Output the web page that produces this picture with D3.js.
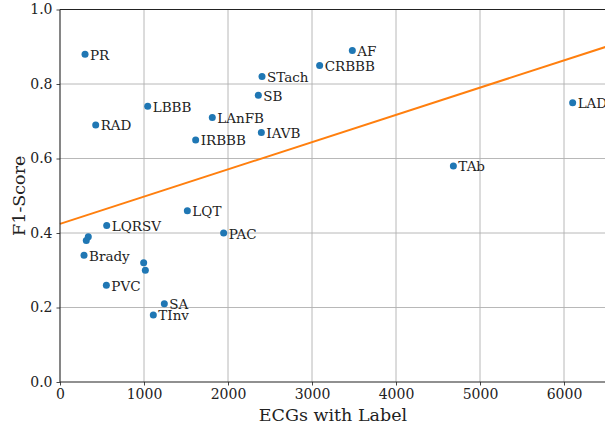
<!DOCTYPE html>
<html>
<head>
<meta charset="utf-8">
<script src="https://cdn.jsdelivr.net/npm/d3@7"></script>
<style>
  html, body { margin: 0; padding: 0; background: #fff; }
  svg { display: block; }
  text { font-family: "DejaVu Serif", serif; fill: #222; }
</style>
</head>
<body>
<svg id="chart" width="605" height="427"></svg>
<script>
// ---- data ----
const labels = ["PR", "RAD", "LBBB", "IRBBB", "LQT", "LQRSV", "PAC", "", "", "Brady", "", "", "PVC", "SA", "TInv",
                "AF", "CRBBB", "STach", "SB", "LAnFB", "IAVB", "LAD", "TAb"];
const counts = [298, 425, 1044, 1615, 1516, 556, 1948, 337, 313, 286, 996, 1016, 552, 1242, 1111,
                3480, 3091, 2405, 2361, 1813, 2397, 6103, 4683];
const f1 = [0.88, 0.69, 0.74, 0.65, 0.46, 0.42, 0.40, 0.39, 0.38, 0.34, 0.32, 0.30, 0.26, 0.21, 0.18,
            0.89, 0.85, 0.82, 0.77, 0.71, 0.67, 0.75, 0.58];
const xTicks = [0, 1000, 2000, 3000, 4000, 5000, 6000];
const yTicks = [0.0, 0.2, 0.4, 0.6, 0.8, 1.0];
const xTitle = "ECGs with Label";
const yTitle = "F1-Score";

const data = labels.map((l, i) => ({ label: l, x: counts[i], y: f1[i] }));

// least-squares fit
const mx = d3.mean(counts), my = d3.mean(f1);
const sxy = d3.sum(data, d => (d.x - mx) * (d.y - my));
const sxx = d3.sum(data, d => (d.x - mx) * (d.x - mx));
const slope = sxy / sxx, intercept = my - slope * mx;

const svg = d3.select("#chart");
const L = 60, T = 9.5, R = 606, B = 382;
const x = d3.scaleLinear().domain([0, 6500]).range([L, R]);
const y = d3.scaleLinear().domain([0, 1]).range([B, T]);

// grid
const grid = svg.append("g");
grid.selectAll("line.gx").data(xTicks.slice(1)).join("line")
  .attr("x1", d => x(d)).attr("x2", d => x(d)).attr("y1", B).attr("y2", T)
  .attr("stroke", "#b0b0b0").attr("stroke-width", 0.9);
grid.selectAll("line.gy").data(yTicks.slice(1)).join("line")
  .attr("y1", d => y(d)).attr("y2", d => y(d)).attr("x1", L).attr("x2", R)
  .attr("stroke", "#b0b0b0").attr("stroke-width", 0.9);

// axes
const fmtY = d3.format(".1f");
const gx = svg.append("g").attr("transform", `translate(0,${B})`)
  .call(d3.axisBottom(x).tickValues(xTicks).tickFormat(d3.format("d")).tickSize(3.5).tickPadding(4));
const gy = svg.append("g").attr("transform", `translate(${L},0)`)
  .call(d3.axisLeft(y).tickValues(yTicks).tickFormat(fmtY).tickSize(3.5).tickPadding(4));
[gx, gy].forEach(g => {
  g.select(".domain").remove();
  g.selectAll(".tick line").attr("stroke", "#333").attr("stroke-width", 0.9);
  g.selectAll(".tick text").style("font-family", "DejaVu Serif, serif").style("font-size", "14px").attr("fill", "#222");
});

// regression line
svg.append("line")
  .attr("x1", x(0)).attr("y1", y(intercept))
  .attr("x2", x(6500)).attr("y2", y(intercept + slope * 6500))
  .attr("stroke", "#ff7f0e").attr("stroke-width", 2);

// spines (left, bottom, top)
svg.append("line").attr("x1", L).attr("x2", L).attr("y1", T).attr("y2", B).attr("stroke", "#222").attr("stroke-width", 1.1);
svg.append("line").attr("x1", L).attr("x2", R).attr("y1", B).attr("y2", B).attr("stroke", "#222").attr("stroke-width", 1.1);
svg.append("line").attr("x1", L).attr("x2", R).attr("y1", T).attr("y2", T).attr("stroke", "#222").attr("stroke-width", 1.1);

// points
svg.append("g").selectAll("circle").data(data).join("circle")
  .attr("cx", d => x(d.x)).attr("cy", d => y(d.y)).attr("r", 3.5)
  .attr("fill", "#1f77b4");

// labels
svg.append("g").selectAll("text").data(data.filter(d => d.label)).join("text")
  .attr("x", d => x(d.x) + 5).attr("y", d => y(d.y) + 5.5)
  .style("font-size", "13.5px")
  .text(d => d.label);

// titles
svg.append("text").attr("x", (L + R) / 2).attr("y", 421)
  .attr("text-anchor", "middle").style("font-size", "17.5px").text(xTitle);
svg.append("text").attr("transform", `translate(25,${(T + B) / 2}) rotate(-90)`)
  .attr("text-anchor", "middle").style("font-size", "17.5px").text(yTitle);
</script>
</body>
</html>
